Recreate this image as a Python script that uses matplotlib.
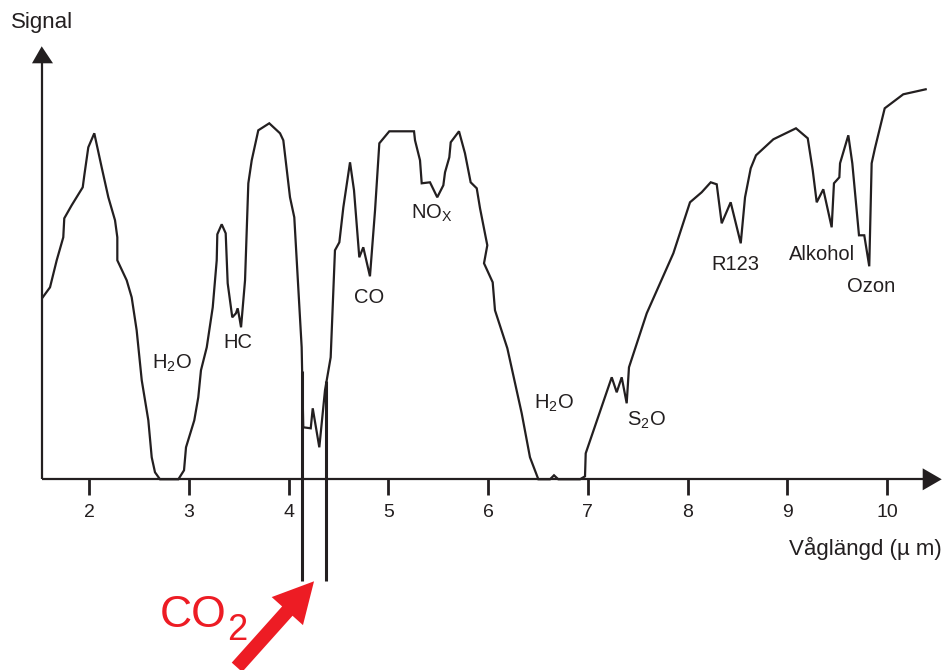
import matplotlib
matplotlib.use("Agg")
import matplotlib.pyplot as plt
from matplotlib.patches import FancyArrowPatch

plt.rcParams['font.family'] = ['Liberation Sans', 'DejaVu Sans']
plt.rcParams['mathtext.fontset'] = 'custom'
plt.rcParams['mathtext.rm'] = 'Liberation Sans'

# spectrum: wavelength (um) and signal (arb. units)
wavelength = [1.533, 1.606, 1.673, 1.739, 1.749, 1.823, 1.934, 1.950, 1.990, 2.050,
              2.124, 2.191, 2.258, 2.281, 2.281, 2.375, 2.425, 2.475, 2.526, 2.592,
              2.626, 2.659, 2.709, 2.893, 2.950, 2.970, 3.053, 3.093, 3.120, 3.178,
              3.238, 3.278, 3.284, 3.328, 3.368, 3.388, 3.434, 3.471, 3.488, 3.505,
              3.522, 3.562, 3.595, 3.629, 3.695, 3.805, 3.913, 3.946, 4.013, 4.056,
              4.096, 4.130, 4.146, 4.221, 4.241, 4.307, 4.364, 4.421, 4.464, 4.508,
              4.548, 4.615, 4.655, 4.708, 4.748, 4.815, 4.866, 4.909, 5.009, 5.257,
              5.267, 5.317, 5.334, 5.417, 5.490, 5.551, 5.568, 5.611, 5.625, 5.708,
              5.768, 5.825, 5.886, 5.919, 5.992, 5.959, 6.046, 6.069, 6.193, 6.337,
              6.420, 6.504, 6.621, 6.661, 6.704, 6.922, 6.972, 6.979, 7.240, 7.290,
              7.340, 7.390, 7.413, 7.591, 7.858, 8.025, 8.142, 8.233, 8.293, 8.343,
              8.433, 8.534, 8.577, 8.634, 8.687, 8.861, 9.088, 9.206, 9.256, 9.296,
              9.362, 9.446, 9.469, 9.523, 9.530, 9.613, 9.653, 9.720, 9.773, 9.823,
              9.847, 9.880, 9.978, 10.164, 10.389]
signal = [182, 192, 219, 242, 261, 274, 292, 304, 332, 346,
          312, 282, 259, 242, 219, 199, 182, 149, 99, 59,
          22, 7, 0, 0, 9, 32, 59, 82, 109, 132,
          172, 219, 245, 255, 246, 196, 162, 166, 171, 162,
          152, 199, 296, 319, 349, 356, 346, 339, 282, 262,
          192, 132, 52, 51, 71, 32, 89, 122, 229, 237,
          272, 317, 289, 222, 232, 203, 269, 336, 348, 348,
          339, 319, 296, 297, 282, 294, 307, 322, 337, 348,
          326, 297, 291, 271, 234, 216, 197, 169, 131, 66,
          22, 0, 0, 4, 0, 0, 3, 26, 102, 87,
          102, 76, 112, 166, 226, 277, 287, 297, 295, 256,
          277, 236, 282, 311, 324, 340, 351, 341, 309, 277,
          290, 252, 296, 302, 316, 344, 316, 244, 244, 213,
          316, 331, 371, 385, 390]

# CO2 band markers (wavelength, top of bar)
co2_x = [4.138, 4.376]
co2_top = [108, 98]
co2_bottom = -102

# absorption labels
labels = [r'H$_\mathregular{2}$O', 'HC', 'CO', r'NO$_\mathregular{X}$', r'H$_\mathregular{2}$O',
          r'S$_\mathregular{2}$O', 'R123', 'Alkohol', 'Ozon']
label_x = [2.826, 3.486, 4.805, 5.432, 6.661, 7.584, 8.476, 9.354, 9.846]
label_y = [111, 131, 176, 261, 71, 54, 209, 219, 187]

ticks = [2, 3, 4, 5, 6, 7, 8, 9, 10]

ink = '#231f20'
red = '#ed1c24'

fig = plt.figure(figsize=(9.45, 6.7), dpi=100)
ax = fig.add_axes([0, 0, 1, 1])
ax.set_xlim(1.1043, 10.5827)
ax.set_ylim(-190.7, 479.3)
ax.patch.set_alpha(0)

x0 = 1.5226
for s in ['top', 'right']:
    ax.spines[s].set_visible(False)
ax.spines['left'].set_position(('data', x0))
ax.spines['bottom'].set_position(('data', 0))
ax.spines['left'].set_bounds(0, 420)
ax.spines['bottom'].set_bounds(x0, 10.37)
for s in ['left', 'bottom']:
    ax.spines[s].set_linewidth(1.6)
    ax.spines[s].set_color(ink)
    ax.spines[s].set_capstyle('butt')
ax.set_yticks([])
ax.set_xticks(ticks)
ax.set_xticklabels([str(t) for t in ticks])
ax.tick_params(axis='x', direction='out', length=11.5, width=2.0, colors=ink,
               labelsize=14, pad=6)

# axis arrow heads
ax.fill([1.425, 1.636, x0], [416, 416, 433], color=ink, clip_on=False, lw=0)
ax.fill([10.359, 10.359, 10.55], [11, -11, 0], color=ink, clip_on=False, lw=0)

ax.plot(wavelength, signal, color=ink, lw=1.6, solid_joinstyle='miter', clip_on=False)

for cx, ct in zip(co2_x, co2_top):
    ax.plot([cx, cx], [ct, co2_bottom], color=ink, lw=2.2, solid_capstyle='butt', clip_on=False)

for t, lx, ly in zip(labels, label_x, label_y):
    ax.text(lx, ly, t, ha='center', va='baseline', fontsize=14.5, color=ink)

ax.text(x0, 451, 'Signal', ha='center', va='baseline', fontsize=16, color=ink)
ax.text(10.55, -76, 'Våglängd (µ m)', ha='right', va='baseline', fontsize=16, color=ink)

# CO2 callout
ax.text(2.709, -148, 'CO', ha='left', va='baseline', fontsize=32, color=red)
ax.text(3.38, -161, '2', ha='left', va='baseline', fontsize=26, color=red)
arrow = FancyArrowPatch((3.481, -188), (4.254, -102),
                        arrowstyle='simple,head_length=0.4,head_width=0.42,tail_width=0.14',
                        mutation_scale=72, color=red, shrinkA=0, shrinkB=0, lw=0,
                        clip_on=False)
ax.add_patch(arrow)

fig.savefig('out.png', dpi=100)
